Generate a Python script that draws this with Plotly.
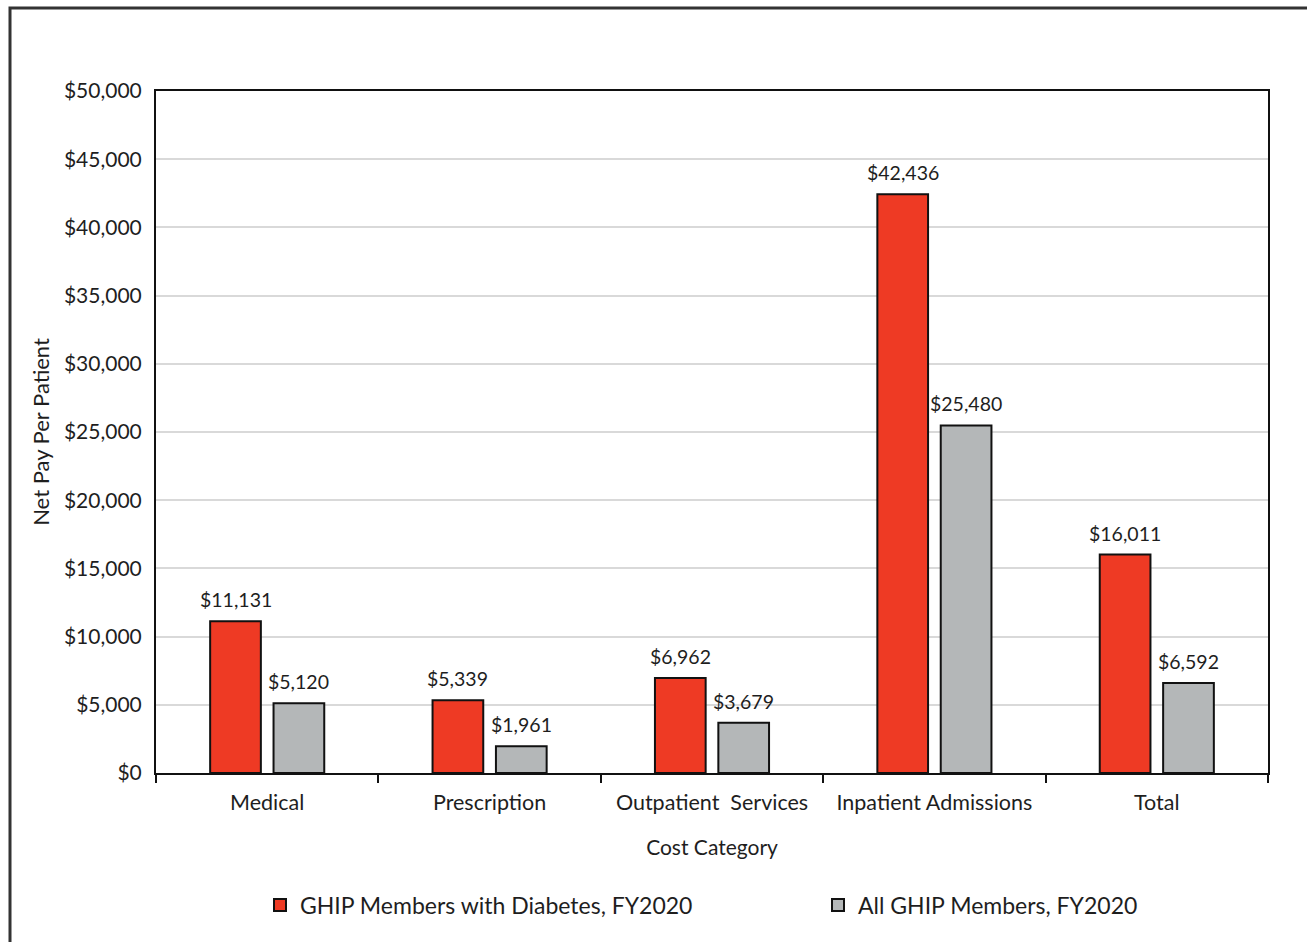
import plotly.graph_objects as go

categories = ["Medical", "Prescription", "Outpatient\u00a0\u00a0Services", "Inpatient Admissions", "Total"]
diabetes = [11131, 5339, 6962, 42436, 16011]
all_members = [5120, 1961, 3679, 25480, 6592]
series_names = ["GHIP Members with Diabetes, FY2020", "All GHIP Members, FY2020"]
y_ticks = [0, 5000, 10000, 15000, 20000, 25000, 30000, 35000, 40000, 45000, 50000]

W, H = 1307, 942
L, R, T, B = 156, 39, 91, 169
FONT = "Lato, Open Sans, sans-serif"
TXT = "#1e1e1e"
BARGAP, GROUPGAP = 0.43, 0.2

pw = W - L - R
ph = H - T - B
cat_w = pw / len(categories)
slot = cat_w * (1 - BARGAP) / 2

fig = go.Figure()
annotations = []
for i, (name, vals, col, lg) in enumerate([(series_names[0], diabetes, "#EE3A24", "legend"),
                                           (series_names[1], all_members, "#B4B7B8", "legend2")]):
    fig.add_trace(go.Bar(
        x=categories, y=vals, name=name, legend=lg,
        marker=dict(color=col, line=dict(color="#111111", width=2)),
        cliponaxis=False,
    ))
    shift = (i - 0.5) * slot
    for c, v in zip(categories, vals):
        annotations.append(dict(x=c, y=v, xref="x", yref="y", text=f"${v:,}",
                                showarrow=False, yanchor="bottom", xanchor="center",
                                xshift=shift, yshift=8,
                                font=dict(family=FONT, size=19.5, color=TXT)))

leg_y = (H - B - 905) / ph
leg_common = dict(orientation="h", xanchor="left", y=leg_y, yanchor="middle",
                  font=dict(family=FONT, size=23, color=TXT), itemwidth=30,
                  bgcolor="rgba(0,0,0,0)")

fig.update_layout(
    width=W, height=H,
    margin=dict(l=L, r=R, t=T, b=B, autoexpand=False),
    plot_bgcolor="white", paper_bgcolor="white",
    barmode="group", bargap=BARGAP, bargroupgap=GROUPGAP,
    font=dict(family=FONT, size=21, color=TXT),
    showlegend=True,
    legend=dict(x=(260 - L) / pw, **leg_common),
    legend2=dict(x=(818 - L) / pw, **leg_common),
    annotations=annotations,
    xaxis=dict(
        tickson="boundaries", ticks="outside", ticklen=8, tickcolor="#111111", tickwidth=2,
        showline=True, linecolor="#111111", linewidth=2, mirror=True,
        tickfont=dict(family=FONT, size=21.5, color=TXT), ticklabelstandoff=9,
        automargin=False,
        title=dict(text="Cost Category", font=dict(family=FONT, size=21, color=TXT), standoff=27),
    ),
    yaxis=dict(
        range=[0, 50000], tickvals=y_ticks,
        ticktext=[f"${v:,}" for v in y_ticks],
        showgrid=True, gridcolor="#D9D9D9", gridwidth=2,
        showline=True, linecolor="#111111", linewidth=2, mirror=True,
        ticks="", ticklabelstandoff=8, zeroline=False, automargin=False,
        tickfont=dict(family=FONT, size=21, color=TXT),
        title=dict(text="Net Pay Per Patient", font=dict(family=FONT, size=22, color=TXT), standoff=8),
    ),
    shapes=[dict(type="rect", xref="paper", yref="paper",
                 x0=(10 - L) / pw, x1=(W + 40 - L) / pw,
                 y0=(H - B - (H + 40)) / ph, y1=(H - B - 8) / ph,
                 line=dict(color="#333333", width=3), fillcolor="rgba(0,0,0,0)", layer="below")],
)

fig.write_html("out.html")
